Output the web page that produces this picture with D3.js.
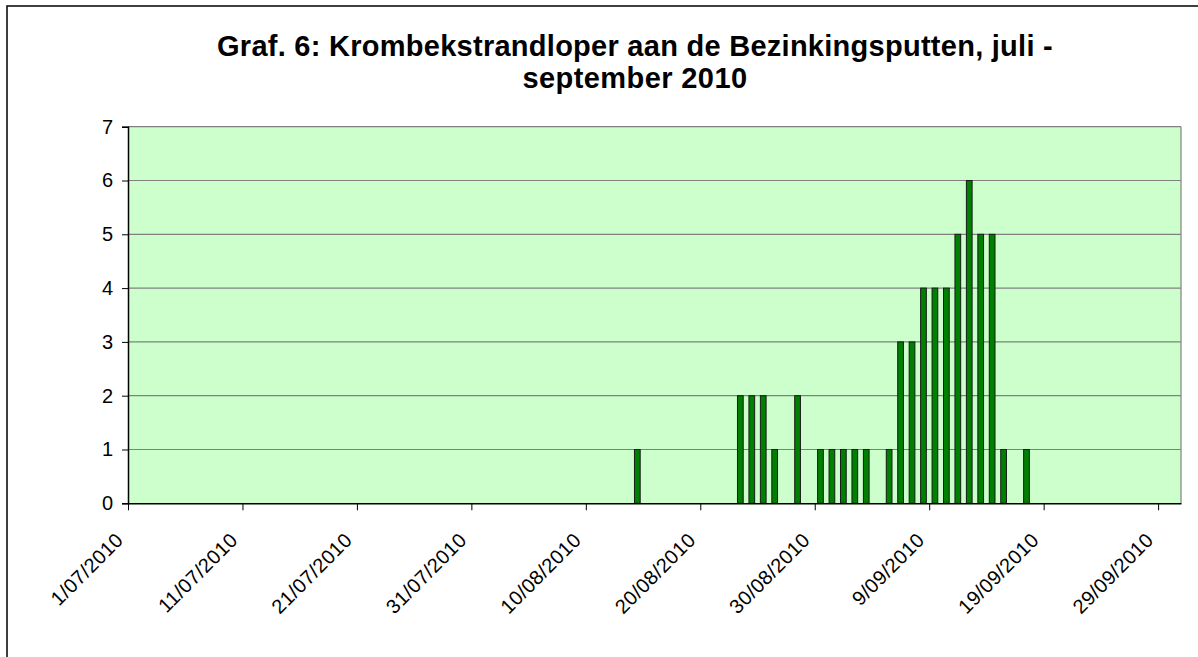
<!DOCTYPE html>
<html><head><meta charset="utf-8">
<script src="https://cdn.jsdelivr.net/npm/d3@7"></script>
<style>body{margin:0;background:#fff;}svg{display:block;font-family:"Liberation Sans",Arial,sans-serif;}</style>
</head><body>
<svg id="c" width="1198" height="657"></svg>
<script>
const titleLines = ["Graf. 6: Krombekstrandloper aan de Bezinkingsputten, juli -", "september 2010"];
const dates = ["2010-08-14","2010-08-23","2010-08-24","2010-08-25","2010-08-26","2010-08-28","2010-08-30","2010-08-31","2010-09-01","2010-09-02","2010-09-03","2010-09-05","2010-09-06","2010-09-07","2010-09-08","2010-09-09","2010-09-10","2010-09-11","2010-09-12","2010-09-13","2010-09-14","2010-09-15","2010-09-17"];
const counts = [1,2,2,2,1,2,1,1,1,1,1,1,3,3,4,4,4,5,6,5,5,1,1];
const yTicks = [0,1,2,3,4,5,6,7];
const xStart = "2010-07-01", xEnd = "2010-10-01";

const parse = d3.timeParse("%Y-%m-%d");
const svg = d3.select("#c");
const L = 128, R = 1181, T = 126.7, B = 503.3;
const FONT = "Liberation Sans, Arial, sans-serif";

svg.append("rect").attr("x",7).attr("y",6).attr("width",1260).attr("height",700)
  .attr("fill","#fff").attr("stroke","#000").attr("stroke-width",1.5);

const x = d3.scaleTime().domain([parse(xStart), parse(xEnd)]).range([L, R]);
const y = d3.scaleLinear().domain([0,7]).range([B, T]);

svg.append("rect").attr("x",L).attr("y",T).attr("width",R-L).attr("height",B-T).attr("fill","#CCFFCC");

svg.append("g").selectAll("line").data(yTicks.filter(v=>v>0)).join("line")
  .attr("x1",L).attr("x2",R).attr("y1",d=>y(d)).attr("y2",d=>y(d))
  .attr("stroke","#808080").attr("stroke-width",1.2);
svg.append("line").attr("x1",R).attr("x2",R).attr("y1",T).attr("y2",B).attr("stroke","#808080").attr("stroke-width",1.2);

const slot = x(parse("2010-07-02")) - x(parse("2010-07-01"));
const bw = slot*0.5;
const data = dates.map((d,i)=>({date:parse(d), v:counts[i]}));
svg.append("g").selectAll("rect").data(data).join("rect")
  .attr("x",d=>x(d.date)+slot/2-bw/2).attr("width",bw)
  .attr("y",d=>y(d.v)).attr("height",d=>B-y(d.v))
  .attr("fill","#008000").attr("stroke","#1a1a1a").attr("stroke-width",1);

const yAxis = d3.axisLeft(y).tickValues(yTicks).tickSize(6).tickPadding(9).tickFormat(d3.format("d"));
const gy = svg.append("g").attr("transform",`translate(${L},0)`).call(yAxis);
gy.attr("font-size",null).attr("font-family",null);
gy.select(".domain").attr("stroke","#000").attr("stroke-width",1.5);
gy.selectAll(".tick line").attr("stroke","#000");
gy.selectAll("text").style("font-size","20px").attr("fill","#000").style("font-family",FONT);

const xTicks = d3.timeDay.range(parse(xStart), parse(xEnd), 10);
const xAxis = d3.axisBottom(x).tickValues(xTicks).tickSize(7).tickSizeOuter(0).tickFormat(d3.timeFormat("%-d/%m/%Y"));
const gx = svg.append("g").attr("transform",`translate(0,${B})`).call(xAxis);
gx.attr("font-size",null).attr("font-family",null);
gx.select(".domain").attr("stroke","#000").attr("stroke-width",1.5);
gx.selectAll(".tick line").attr("stroke","#000");
gx.selectAll("text").style("font-size","20px").style("letter-spacing","0.4px").attr("fill","#000").style("font-family",FONT)
  .attr("text-anchor","end").attr("dy","0").attr("y",0)
  .attr("transform","translate(-4,38) rotate(-45)");

const targetW = [836, 225];
const tt = svg.append("g").selectAll("text").data(titleLines).join("text")
  .attr("x",635).attr("y",(d,i)=>56+i*32).attr("text-anchor","middle")
  .style("font-size","29px").attr("font-weight","bold").attr("fill","#000").style("font-family",FONT).text(d=>d);
tt.each(function(d,i){
  const w = this.getComputedTextLength();
  const ls = (targetW[i]-w)/d.length;
  d3.select(this).style("letter-spacing", ls+"px");
});
</script>
</body></html>
